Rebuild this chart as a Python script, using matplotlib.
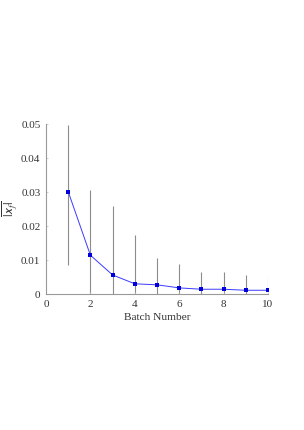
import matplotlib
matplotlib.use("Agg")
import matplotlib.pyplot as plt

plt.rcParams['font.family'] = ['Liberation Serif', 'DejaVu Serif']
plt.rcParams['mathtext.fontset'] = 'stix'

batch = [1, 2, 3, 4, 5, 6, 7, 8, 9, 10]
mean_xf = [0.0301, 0.0114, 0.0056, 0.0030, 0.0027, 0.0018, 0.0014, 0.0014, 0.0011, 0.0011]
err_low = [0.0216, 0.0192, 0.0203, 0.0143, 0.0078, 0.0069, 0.0051, 0.0051, 0.0045, 0.0040]
err_high = [0.0196, 0.0192, 0.0203, 0.0143, 0.0078, 0.0069, 0.0051, 0.0051, 0.0045, 0.0040]

fig = plt.figure(figsize=(3.04, 4.30), dpi=100)
ax = fig.add_axes([46/304, 1 - 294/430, 222/304, 170/430])

ax.errorbar(batch, mean_xf, yerr=[err_low, err_high], fmt='none',
            ecolor='#8c8c8c', elinewidth=0.8, capsize=0, zorder=1)
ax.plot(batch, mean_xf, '-', color='#3a3aff', lw=0.7, zorder=2)
ax.plot(batch, mean_xf, 's', color='#0000dd', ms=2.2, mew=0, zorder=3)

ax.set_xlim(0, 10)
ax.set_ylim(0, 0.05)
ax.set_xticks([0, 2, 4, 6, 8, 10])
ax.set_yticks([0, 0.01, 0.02, 0.03, 0.04, 0.05])
ax.set_yticklabels(['0', '0.01', '0.02', '0.03', '0.04', '0.05'])
ax.tick_params(direction='in', length=1.5, width=0.5, color='#bbbbbb',
               labelsize=8, labelcolor='#333333', pad=4)
for s in ['top', 'right']:
    ax.spines[s].set_visible(False)
for s in ['left', 'bottom']:
    ax.spines[s].set_color('#999999')
    ax.spines[s].set_linewidth(0.8)
ax.set_xlabel('Batch Number', fontsize=8.2, color='#333333', labelpad=3)
ax.set_ylabel(r'$\overline{|\mathsf{x}_f|}$', fontsize=9.5, color='#333333')
ax.yaxis.set_label_coords(-0.115, 0.5)

fig.savefig('out.png', dpi=100)
